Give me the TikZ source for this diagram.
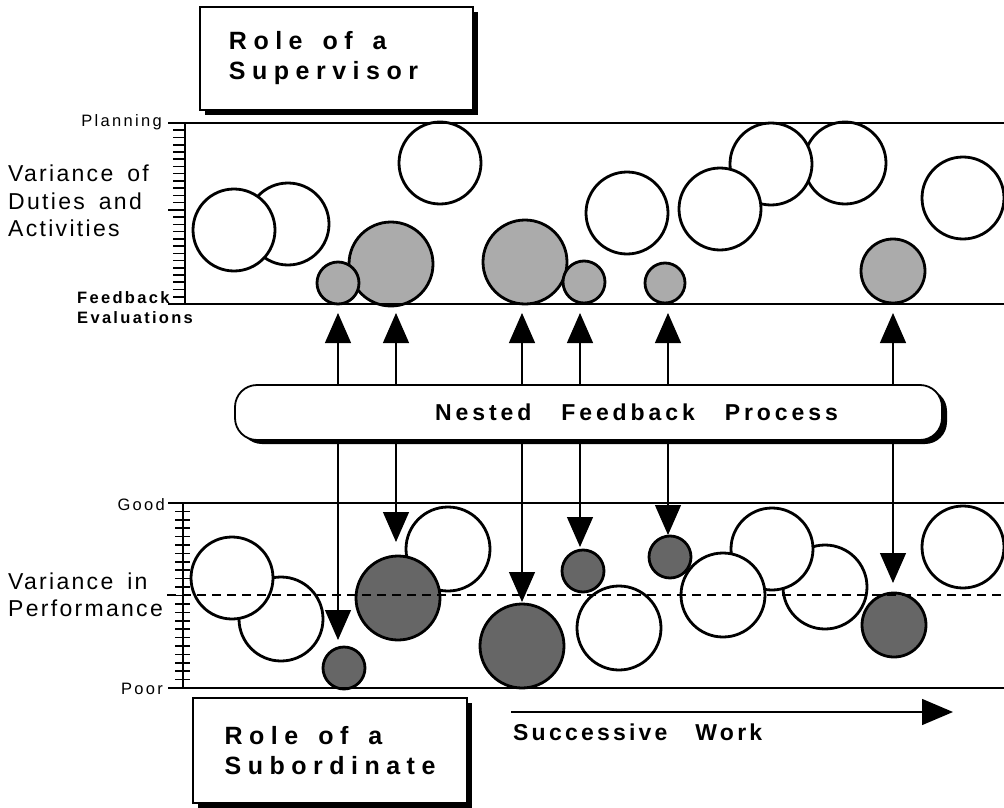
\documentclass[tikz,border=0pt]{standalone}
\usepackage{fontspec}
\setmainfont{Liberation Sans}[LetterSpace=10]
\usetikzlibrary{arrows.meta,shadows}
\newcommand\lblfont{\fontsize{23}{27.5}\selectfont}
\newcommand\tickfont{\fontsize{16.5}{20}\selectfont\addfontfeature{LetterSpace=14}}
\newcommand\headfont{\bfseries\fontsize{25}{30}\selectfont\addfontfeature{LetterSpace=26}}
\tikzset{
  ball/.style={circle,draw,line width=2.8pt,inner sep=0pt,minimum size=#1},
  openball/.style={ball=#1,fill=white},
  evalball/.style={ball=#1,fill=black!33},
  perfball/.style={ball=#1,fill=black!60},
  rolebox/.style={draw,line width=1.4pt,fill=white,align=left,
    drop shadow={shadow xshift=5pt,shadow yshift=-5pt,fill=black,opacity=1},font=\headfont},
  fbarrow/.style={-{Triangle[width=26pt,length=30pt]},line width=1.2pt}
}
\begin{document}
\begin{tikzpicture}[x=1pt,y=-1pt]
    \useasboundingbox (0,0) rectangle (1004,808);
    % duties and activities
    \node[openball=82pt] (w2) at (288,224) {};
    \node[openball=82pt] (w1) at (234,230) {};
    \node[openball=82pt] (w3) at (440,163) {};
    \node[evalball=84pt] (g2) at (391,264) {};
    \node[evalball=42pt] (g1) at (338,283) {};
    \node[evalball=84pt] (g3) at (525,262) {};
    \node[evalball=42pt] (g4) at (584,282) {};
    \node[openball=82pt] (w4) at (627,213) {};
    \node[evalball=40pt] (g5) at (665,283) {};
    \node[openball=82pt] (w7) at (845,163) {};
    \node[openball=82pt] (w6) at (771,164) {};
    \node[openball=82pt] (w5) at (720,209) {};
    \node[evalball=64pt] (g6) at (893,271) {};
    \node[openball=82pt] (w8) at (963,198) {};
    % performance
    \node[openball=84pt] (p2) at (281,619) {};
    \node[openball=82pt] (p1) at (232,578) {};
    \node[perfball=42pt] (d1) at (344,668) {};
    \node[openball=84pt] (p3) at (448,549) {};
    \node[perfball=84pt] (d2) at (398,598) {};
    \node[perfball=84pt] (d3) at (522,646) {};
    \node[perfball=42pt] (d4) at (583,571) {};
    \node[openball=84pt] (p4) at (619,628) {};
    \node[openball=84pt] (p7) at (825,587) {};
    \node[openball=82pt] (p6) at (772,549) {};
    \node[openball=84pt] (p5) at (723,595) {};
    \node[perfball=42pt] (d5) at (670,557) {};
    \node[perfball=64pt] (d6) at (894,625) {};
    \node[openball=82pt] (p8) at (963,547) {};

    \draw[line width=1.6pt] (168,123) -- (1004,123);
    \draw[line width=1.6pt] (168,304) -- (1004,304);
    \draw[line width=1.4pt] (185,123) -- (185,304);
    \foreach \k in {1,...,24}
        \draw[line width=1.6pt] (173,{123+7.24*\k}) -- (185,{123+7.24*\k});
    \draw[line width=1.6pt] (168,210) -- (185,210);

    \draw[line width=1.6pt] (168,503) -- (1004,503);
    \draw[line width=1.6pt] (168,688) -- (1004,688);
    \draw[line width=1.4pt] (183,503) -- (183,688);
    \foreach \k in {1,...,21}
        \draw[line width=1.6pt] (175,{503+8.41*\k}) -- (190,{503+8.41*\k});
    \draw[line width=1.3pt,dash pattern=on 9pt off 6pt] (167,595) -- (1004,595);

    \node[anchor=west,align=left,inner sep=0pt,font=\lblfont] (dutylbl) at (8,201) {Variance\hspace{14pt}of\\Duties\hspace{14pt}and\\Activities};
    \node[anchor=west,align=left,inner sep=0pt,font=\lblfont] (perflbl) at (8,595) {Variance\hspace{14pt}in\\Performance};
    \node[anchor=base east,inner sep=0pt,font=\tickfont] (plan) at (162,126) {Planning};
    \node[anchor=base west,inner sep=0pt,font=\tickfont\bfseries] (feed) at (77,303) {Feedback};
    \node[anchor=base west,inner sep=0pt,font=\tickfont\bfseries] (eval) at (77,323) {Evaluations};
    \node[anchor=base east,inner sep=0pt,font=\tickfont] (good) at (165,510) {Good};
    \node[anchor=base east,inner sep=0pt,font=\tickfont] (poor) at (163,694) {Poor};

    \node[rolebox,minimum width=273pt,minimum height=103pt] (sup) at (336.5,58.5) {Role\hspace{20pt}of\hspace{20pt}a\\Supervisor\hspace*{26pt}};
    \node[rolebox,minimum width=274pt,minimum height=105pt] (sub) at (330,750.5) {Role\hspace{20pt}of\hspace{20pt}a\\Subordinate};

    \node[draw,line width=1.8pt,fill=white,rounded corners=22pt,minimum width=707pt,minimum height=55pt,
        drop shadow={shadow xshift=5pt,shadow yshift=-4pt,fill=black,opacity=1},
        font=\bfseries\fontsize{23}{27}\selectfont\addfontfeature{LetterSpace=17}] (fb) at (588.5,412.5)
        {\hspace*{96pt}Nested\hspace{30pt}Feedback\hspace{30pt}Process};

    \foreach \n/\x/\y in {1/338/640,2/396/542,3/522/602,4/580/547,5/668/535,6/893/583} {
        \coordinate (up\n) at (\x,313);
        \coordinate (dn\n) at (\x,\y);
        \draw[fbarrow] (fb.north -| up\n) -- (up\n);
        \draw[fbarrow] (fb.south -| dn\n) -- (dn\n);
    }

    \coordinate (work0) at (511,712);
    \coordinate (work1) at (953,712);
    \draw[-{Triangle[width=26pt,length=31pt]},line width=1.4pt] (work0) -- (work1);
    \node[anchor=base west,inner sep=0pt,font=\bfseries\fontsize{23}{27}\selectfont\addfontfeature{LetterSpace=14}] (work) at (513,740) {Successive\hspace{28pt}Work};
\end{tikzpicture}
\end{document}
